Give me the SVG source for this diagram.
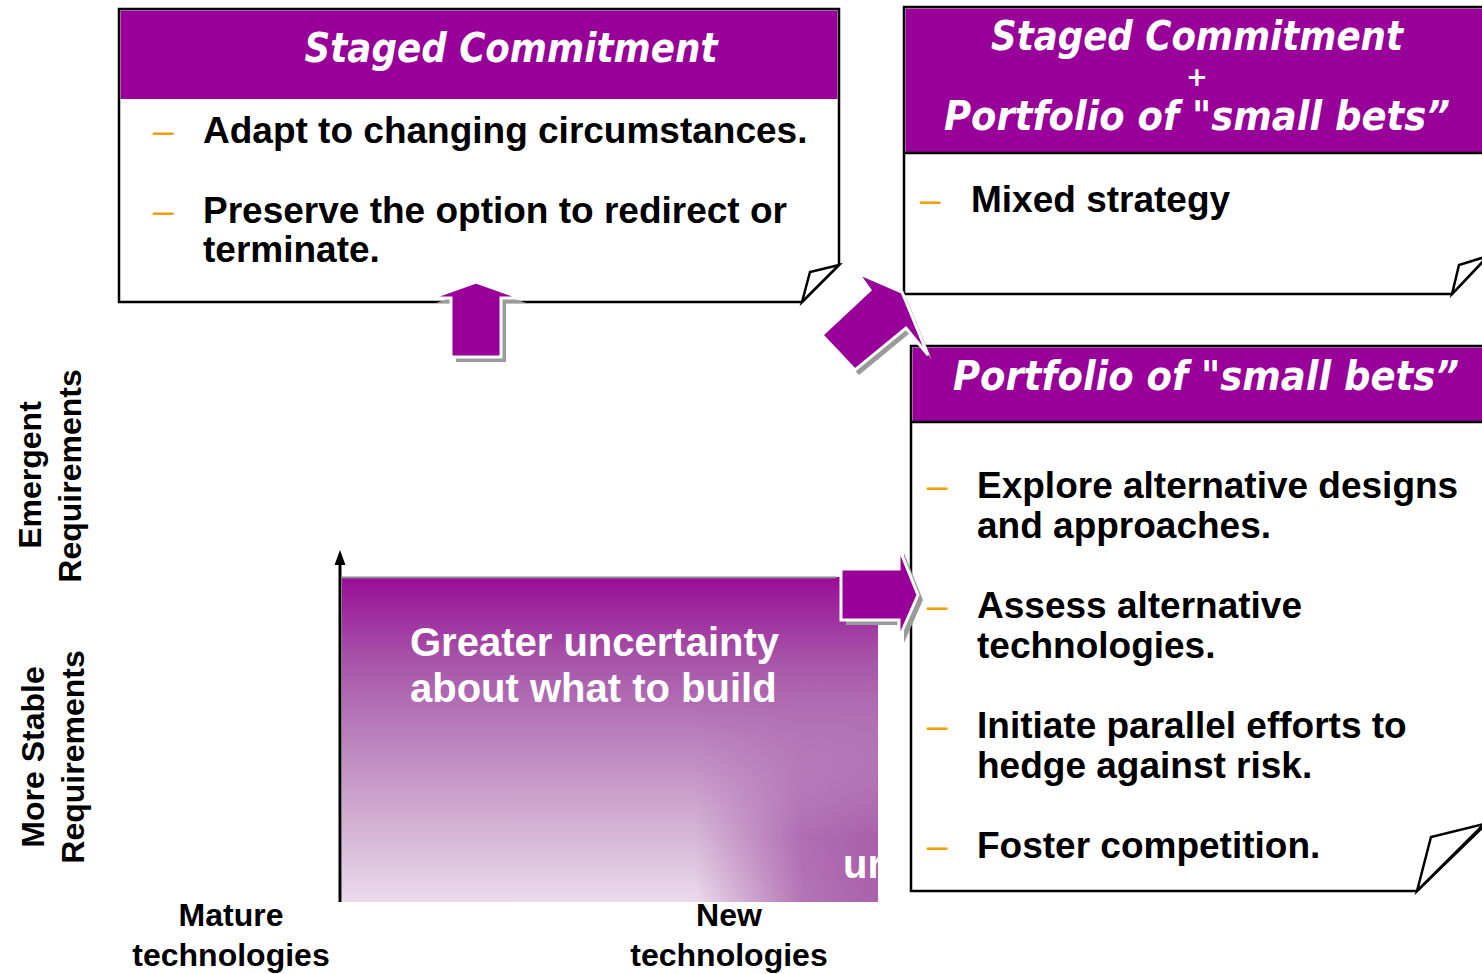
<svg xmlns="http://www.w3.org/2000/svg" width="1482" height="974" viewBox="0 0 1482 974">
<defs>
<style>
.box{fill:#fff;stroke:#000;stroke-width:2.5}
.flap{fill:#fff;stroke:#000;stroke-width:2.5;stroke-linejoin:miter}
.hdr{fill:#990099}
.ttl{font-family:"Comic Sans MS","DejaVu Sans",sans-serif;font-weight:bold;font-style:italic;font-size:40px;fill:#fff;text-anchor:middle}
.body{font-family:"Liberation Sans",Arial,sans-serif;font-weight:bold;font-size:37px;fill:#000}
.dash{font-family:"Liberation Sans",Arial,sans-serif;font-size:37px;fill:#f0a000}
.lab{font-family:"Liberation Sans",Arial,sans-serif;font-weight:bold;font-size:32px;fill:#000;text-anchor:middle}
.inbox{font-family:"Liberation Sans",Arial,sans-serif;font-weight:bold;font-size:40px;fill:#fff}
.arr{fill:#990099;stroke:#fff;stroke-width:3;stroke-linejoin:miter}
.shd{fill:#9a9a9a}
</style>
<linearGradient id="gv" x1="0" y1="0" x2="0" y2="1">
<stop offset="0" stop-color="#990d97"/>
<stop offset="0.25" stop-color="#a653a8"/>
<stop offset="0.55" stop-color="#bf8cc1"/>
<stop offset="0.8" stop-color="#d7b7d8"/>
<stop offset="1" stop-color="#ecdbec"/>
</linearGradient>
<linearGradient id="gh" x1="0" y1="0" x2="1" y2="0">
<stop offset="0.66" stop-color="#a65aa8" stop-opacity="0"/>
<stop offset="0.86" stop-color="#a65aa8" stop-opacity="0.8"/>
<stop offset="1" stop-color="#a65aa8" stop-opacity="0.95"/>
</linearGradient>
<linearGradient id="gm" x1="0" y1="0" x2="0" y2="1">
<stop offset="0.3" stop-color="#fff" stop-opacity="0"/>
<stop offset="0.8" stop-color="#fff" stop-opacity="1"/>
<stop offset="1" stop-color="#fff" stop-opacity="1"/>
</linearGradient>
<mask id="mk" maskUnits="userSpaceOnUse" x="342" y="577" width="536" height="325">
<rect x="342" y="577" width="536" height="325" fill="url(#gm)"/>
</mask>
<clipPath id="cb"><rect x="342" y="577" width="536" height="325"/></clipPath>
</defs>

<g id="axis-labels">
<text class="lab" transform="translate(41,475) rotate(-90)">Emergent</text>
<text class="lab" transform="translate(81,476) rotate(-90)">Requirements</text>
<text class="lab" transform="translate(44,757) rotate(-90)">More Stable</text>
<text class="lab" transform="translate(84,757) rotate(-90)">Requirements</text>
<text class="lab" x="231" y="926">Mature</text>
<text class="lab" x="231" y="966">technologies</text>
<text class="lab" x="729" y="926">New</text>
<text class="lab" x="729" y="966">technologies</text>
</g>

<g id="uncertainty-box">
<rect x="342" y="577" width="536" height="325" fill="url(#gv)"/>
<rect x="342" y="577" width="536" height="325" fill="url(#gh)" mask="url(#mk)"/>
<line x1="342" y1="577.5" x2="836" y2="577.5" stroke="#8a8a8a" stroke-width="2"/>
<text class="inbox" x="410" y="656">Greater uncertainty</text>
<text class="inbox" x="410" y="702">about what to build</text>
<g clip-path="url(#cb)"><text class="inbox" x="843" y="878">ur</text></g>
</g>

<g id="box-staged">
<path class="box" d="M119,9 H839 V265 L802,302 H119 Z"/>
<rect class="hdr" x="120.5" y="10.5" width="717" height="88.5"/>
<path class="flap" d="M839,265 L810,272 L802,302 Z"/>
<text class="ttl" x="511" y="62" textLength="413" lengthAdjust="spacingAndGlyphs">Staged Commitment</text>
<text class="dash" x="153" y="143">–</text>
<text class="body" x="203" y="143">Adapt to changing circumstances.</text>
<text class="dash" x="153" y="223">–</text>
<text class="body" x="203" y="223">Preserve the option to redirect or</text>
<text class="body" x="203" y="262">terminate.</text>
</g>

<g id="box-portfolio">
<path class="box" d="M911,346 H1486 V824 L1417,891 H911 Z"/>
<rect class="hdr" x="912.5" y="347.5" width="572" height="74.5"/>
<line x1="911" y1="422" x2="1486" y2="422" stroke="#000" stroke-width="2.5"/>
<path class="flap" d="M1484,824 L1431,837 L1417,891 Z"/>
<text class="ttl" x="1206" y="390" textLength="506" lengthAdjust="spacingAndGlyphs">Portfolio of "small bets”</text>
<text class="dash" x="927" y="498">–</text>
<text class="body" x="977" y="498">Explore alternative designs</text>
<text class="body" x="977" y="538">and approaches.</text>
<text class="dash" x="927" y="618">–</text>
<text class="body" x="977" y="618">Assess alternative</text>
<text class="body" x="977" y="658">technologies.</text>
<text class="dash" x="927" y="738">–</text>
<text class="body" x="977" y="738">Initiate parallel efforts to</text>
<text class="body" x="977" y="778">hedge against risk.</text>
<text class="dash" x="927" y="858">–</text>
<text class="body" x="977" y="858">Foster competition.</text>
</g>

<g id="box-combined">
<path class="box" d="M904,7 H1488 V256 L1452,294 H904 Z"/>
<rect class="hdr" x="905.5" y="8.5" width="580" height="144.5"/>
<line x1="904" y1="153" x2="1488" y2="153" stroke="#000" stroke-width="2.5"/>
<path class="flap" d="M1488,256 L1459,265 L1452,294 Z"/>
<text class="ttl" x="1197" y="50" textLength="412" lengthAdjust="spacingAndGlyphs">Staged Commitment</text>
<text class="ttl" x="1197" y="86" style="font-size:26px">+</text>
<text class="ttl" x="1197" y="130" textLength="506" lengthAdjust="spacingAndGlyphs">Portfolio of "small bets”</text>
<text class="dash" x="920" y="212">–</text>
<text class="body" x="971" y="212">Mixed strategy</text>
</g>

<g id="connectors">
<line x1="340" y1="902" x2="340" y2="562" stroke="#000" stroke-width="3"/>
<polygon points="340,550 345.5,565 334.5,565" fill="#000"/>
<g id="arrow-up">
<polygon class="shd" transform="translate(5,5)" points="476,282 521,298 501,298 501,357 451,357 451,298 431,298"/>
<polygon class="arr" points="476,282 521,298 501,298 501,357 451,357 451,298 431,298"/>
</g>
<g id="arrow-diag">
<polygon class="shd" transform="translate(4,5)" points="858,273 902,292 928,355 906,328 855,370 822,335 870,290"/>
<polygon class="arr" points="858,273 902,292 928,355 906,328 855,370 822,335 870,290"/>
</g>
<g id="arrow-right">
<polygon class="shd" transform="translate(5,5)" points="841,569 899,569 899,548 918,595 899,638 899,620 841,620"/>
<polygon class="arr" points="841,569 899,569 899,548 918,595 899,638 899,620 841,620"/>
</g>
</g>
</svg>
